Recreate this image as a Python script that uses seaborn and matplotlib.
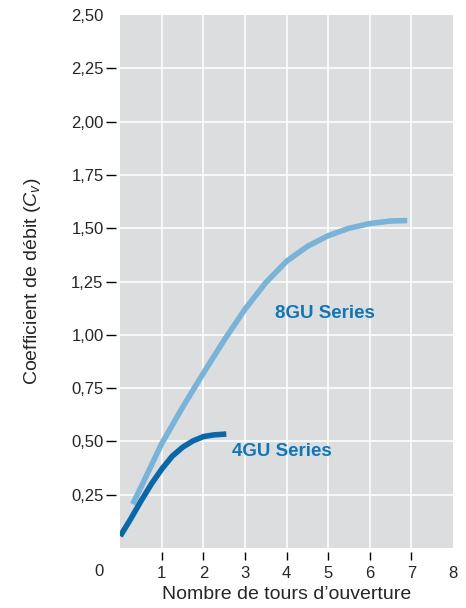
import pandas as pd
import matplotlib
matplotlib.use("Agg")
import matplotlib.pyplot as plt
import seaborn as sns

# Donnees
tours_4gu = [0.0, 0.25, 0.5, 0.75, 1.0, 1.25, 1.5, 1.75, 2.0, 2.25, 2.55]
cv_4gu = [0.055, 0.135, 0.22, 0.30, 0.37, 0.43, 0.472, 0.502, 0.522, 0.53, 0.534]

tours_8gu = [0.3, 0.5, 1.0, 1.5, 2.0, 2.5, 3.0, 3.5, 4.0, 4.5, 5.0, 5.5, 6.0, 6.5, 6.9]
cv_8gu = [0.205, 0.285, 0.49, 0.66, 0.82, 0.975, 1.12, 1.245, 1.345, 1.415, 1.465, 1.50, 1.522, 1.534, 1.536]

x_ticks = [1, 2, 3, 4, 5, 6, 7, 8]
y_ticks = [0.25, 0.5, 0.75, 1.0, 1.25, 1.5, 1.75, 2.0, 2.25, 2.5]
y_labels = ["0,25", "0,50", "0,75", "1,00", "1,25", "1,50", "1,75", "2,00", "2,25", "2,50"]

df4 = pd.DataFrame({"tours": tours_4gu, "cv": cv_4gu})
df8 = pd.DataFrame({"tours": tours_8gu, "cv": cv_8gu})

sns.set_style("white", {"axes.facecolor": "#dcdddf"})
plt.rcParams["font.family"] = ["Liberation Sans", "DejaVu Sans"]
plt.rcParams["mathtext.fontset"] = "custom"
plt.rcParams["mathtext.it"] = "Liberation Sans:italic"
plt.rcParams["mathtext.rm"] = "Liberation Sans"

fig = plt.figure(figsize=(4.66, 6.08), dpi=100)
ax = fig.add_axes([0.258, 0.099, 0.714, 0.876])

# Grille blanche
for xv in x_ticks[:-1]:
    ax.axvline(xv, color="white", lw=1.1, zorder=1)
for yv in y_ticks[:-1]:
    ax.axhline(yv, color="white", lw=1.1, zorder=1)

sns.lineplot(data=df8, x="tours", y="cv", ax=ax, color="#79b3d8", lw=4.0,
             zorder=3, solid_joinstyle="round", solid_capstyle="butt")
sns.lineplot(data=df4, x="tours", y="cv", ax=ax, color="#0a68a9", lw=4.0,
             zorder=4, solid_joinstyle="round", solid_capstyle="butt")

ax.text(4.93, 1.10, "8GU Series", color="#1276b4", fontsize=13.5, fontweight="bold",
        ha="center", va="center")
ax.text(3.88, 0.45, "4GU Series", color="#1276b4", fontsize=13.5, fontweight="bold",
        ha="center", va="center")

ax.set_xlim(0, 8)
ax.set_ylim(0, 2.5)
ax.set_xticks(x_ticks)
ax.set_xticklabels([str(v) for v in x_ticks])
ax.set_yticks(y_ticks)
ax.set_yticklabels(y_labels)

for s in ax.spines.values():
    s.set_visible(False)
ax.spines["left"].set_position(("outward", 3))
ax.spines["bottom"].set_position(("outward", 3))

ax.tick_params(axis="y", direction="out", length=7, width=1, color="black",
               labelsize=12, pad=2, left=True)
ax.tick_params(axis="x", direction="out", length=6, width=1, color="black",
               labelsize=12, pad=4, bottom=True)
ax.yaxis.get_major_ticks()[-1].tick1line.set_visible(False)
ax.xaxis.get_major_ticks()[-1].tick1line.set_visible(False)

# Origine commune
ax.text(-0.5, -0.11, "0", fontsize=12, ha="center", va="center", clip_on=False)

ax.set_xlabel("Nombre de tours d\u2019ouverture", fontsize=14, labelpad=4)
ax.set_ylabel(r"Coefficient de débit ($\mathit{C}_{\mathit{v}}$)", fontsize=14, labelpad=20)

fig.savefig("out.png", dpi=100)
